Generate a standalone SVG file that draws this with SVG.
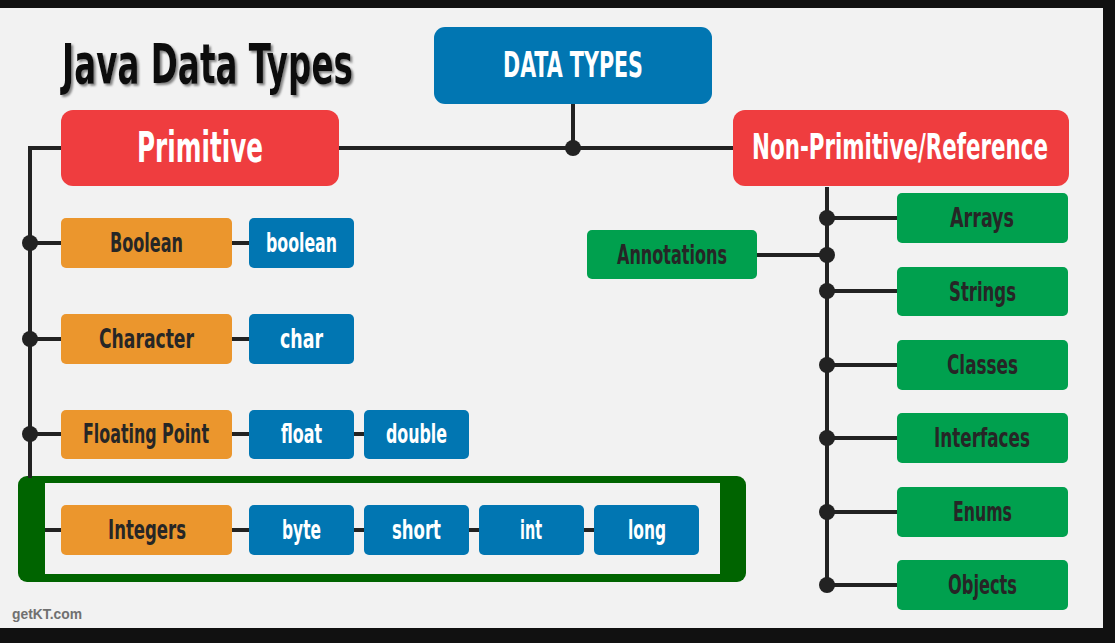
<svg xmlns="http://www.w3.org/2000/svg" width="1115" height="643" viewBox="0 0 1115 643">
<defs>
<style>
.t{font-family:"Liberation Sans Narrow","DejaVu Sans Condensed","Liberation Sans",sans-serif;font-weight:bold;text-anchor:middle}
.w{fill:#ffffff}
.d{fill:#262626}
.lbl{font-size:27px}
.red{fill:#ef3d3f}
.blue{fill:#0176b2}
.org{fill:#eb962d}
.grn{fill:#00a04e}
.ln{stroke:#222;stroke-width:4;fill:none}
.dot{fill:#222}
</style>
<filter id="sh" x="-5%" y="-10%" width="110%" height="130%">
<feDropShadow dx="2" dy="2" stdDeviation="1.2" flood-color="#777" flood-opacity="0.9"/>
</filter>
</defs>
<rect x="0" y="0" width="1115" height="643" fill="#111"/>
<rect x="0" y="8" width="1103" height="620" fill="#f2f2f2"/>

<text x="62" y="83" font-family="Liberation Sans Narrow, DejaVu Sans Condensed, Liberation Sans, sans-serif" font-weight="bold" font-size="55" fill="#111" textLength="291" lengthAdjust="spacingAndGlyphs" filter="url(#sh)">Java Data Types</text>

<g id="integers-frame">
<rect x="18" y="476" width="728" height="106" rx="9" fill="#006400"/>
<rect x="45" y="483" width="675" height="91" fill="#f2f2f2"/>
</g>

<g id="connectors">
<path class="ln" d="M573 104V148M339 148H733"/>
<path class="ln" d="M61 148H30V478"/>
<path class="ln" d="M30 243H61M30 339H61M30 434H61M45 530H61"/>
<path class="ln" d="M232 243H249M232 339H249M232 434H249M354 434H364M232 530H249M354 530H364M469 530H479M584 530H594"/>
<path class="ln" d="M827 187V585M827 218H897M827 291H897M827 365H897M827 438H897M827 512H897M827 585H897M757 255H827"/>
<circle class="dot" cx="573" cy="148" r="8"/>
<circle class="dot" cx="30" cy="243" r="8"/>
<circle class="dot" cx="30" cy="339" r="8"/>
<circle class="dot" cx="30" cy="434" r="8"/>
<circle class="dot" cx="827" cy="218" r="8"/>
<circle class="dot" cx="827" cy="255" r="8"/>
<circle class="dot" cx="827" cy="291" r="8"/>
<circle class="dot" cx="827" cy="365" r="8"/>
<circle class="dot" cx="827" cy="438" r="8"/>
<circle class="dot" cx="827" cy="512" r="8"/>
<circle class="dot" cx="827" cy="585" r="8"/>
</g>

<g id="data-types"><rect class="blue" x="434" y="27" width="278" height="77" rx="11"/><text class="t w" x="573" y="77" font-size="35" textLength="140" lengthAdjust="spacingAndGlyphs">DATA TYPES</text></g>
<g id="primitive"><rect class="red" x="61" y="110" width="278" height="76" rx="12"/><text class="t w" x="200" y="162" font-size="42" textLength="126" lengthAdjust="spacingAndGlyphs">Primitive</text></g>
<g id="non-primitive"><rect class="red" x="733" y="110" width="336" height="76" rx="12"/><text class="t w" transform="translate(900,159) scale(0.68,1)" x="0" y="0" font-size="36" textLength="435" lengthAdjust="spacingAndGlyphs">Non-Primitive/Reference</text></g>

<g id="boolean-cat"><rect class="org" x="61" y="218" width="171" height="50" rx="5"/><text class="t d lbl" x="146.5" y="252" textLength="73" lengthAdjust="spacingAndGlyphs">Boolean</text></g>
<g id="boolean"><rect class="blue" x="249" y="218" width="105" height="50" rx="5"/><text class="t w lbl" x="301.5" y="252" textLength="71" lengthAdjust="spacingAndGlyphs">boolean</text></g>

<g id="character-cat"><rect class="org" x="61" y="314" width="171" height="50" rx="5"/><text class="t d lbl" x="146.5" y="348" textLength="95" lengthAdjust="spacingAndGlyphs">Character</text></g>
<g id="char"><rect class="blue" x="249" y="314" width="105" height="50" rx="5"/><text class="t w lbl" x="301.5" y="348" textLength="43" lengthAdjust="spacingAndGlyphs">char</text></g>

<g id="floating-cat"><rect class="org" x="61" y="410" width="171" height="49" rx="5"/><text class="t d lbl" x="146" y="443" textLength="126" lengthAdjust="spacingAndGlyphs">Floating Point</text></g>
<g id="float"><rect class="blue" x="249" y="410" width="105" height="49" rx="5"/><text class="t w lbl" x="301.5" y="443" textLength="41" lengthAdjust="spacingAndGlyphs">float</text></g>
<g id="double"><rect class="blue" x="364" y="410" width="105" height="49" rx="5"/><text class="t w lbl" x="416.5" y="443" textLength="61" lengthAdjust="spacingAndGlyphs">double</text></g>

<g id="integers-cat"><rect class="org" x="61" y="505" width="171" height="50" rx="5"/><text class="t d lbl" x="147" y="539" textLength="78" lengthAdjust="spacingAndGlyphs">Integers</text></g>
<g id="byte"><rect class="blue" x="249" y="505" width="105" height="50" rx="5"/><text class="t w lbl" x="301.5" y="539" textLength="39" lengthAdjust="spacingAndGlyphs">byte</text></g>
<g id="short"><rect class="blue" x="364" y="505" width="105" height="50" rx="5"/><text class="t w lbl" x="416.5" y="539" textLength="49" lengthAdjust="spacingAndGlyphs">short</text></g>
<g id="int"><rect class="blue" x="479" y="505" width="105" height="50" rx="5"/><text class="t w lbl" x="531" y="539" textLength="22" lengthAdjust="spacingAndGlyphs">int</text></g>
<g id="long"><rect class="blue" x="594" y="505" width="105" height="50" rx="5"/><text class="t w lbl" x="647" y="539" textLength="38" lengthAdjust="spacingAndGlyphs">long</text></g>

<g id="annotations"><rect class="grn" x="587" y="230" width="170" height="49" rx="5"/><text class="t d lbl" x="672" y="264" textLength="110" lengthAdjust="spacingAndGlyphs">Annotations</text></g>
<g id="arrays"><rect class="grn" x="897" y="193" width="171" height="50" rx="5"/><text class="t d lbl" x="982" y="227" textLength="64" lengthAdjust="spacingAndGlyphs">Arrays</text></g>
<g id="strings"><rect class="grn" x="897" y="267" width="171" height="49" rx="5"/><text class="t d lbl" x="982.5" y="301" textLength="67" lengthAdjust="spacingAndGlyphs">Strings</text></g>
<g id="classes"><rect class="grn" x="897" y="340" width="171" height="50" rx="5"/><text class="t d lbl" x="982.5" y="374" textLength="71" lengthAdjust="spacingAndGlyphs">Classes</text></g>
<g id="interfaces"><rect class="grn" x="897" y="413" width="171" height="50" rx="5"/><text class="t d lbl" x="982" y="447" textLength="96" lengthAdjust="spacingAndGlyphs">Interfaces</text></g>
<g id="enums"><rect class="grn" x="897" y="487" width="171" height="50" rx="5"/><text class="t d lbl" x="982.5" y="521" textLength="59" lengthAdjust="spacingAndGlyphs">Enums</text></g>
<g id="objects"><rect class="grn" x="897" y="560" width="171" height="50" rx="5"/><text class="t d lbl" x="982.5" y="594" textLength="69" lengthAdjust="spacingAndGlyphs">Objects</text></g>

<text x="12" y="619" font-family="Liberation Sans, Arial, sans-serif" font-weight="bold" font-size="15" fill="#707070" textLength="70" lengthAdjust="spacingAndGlyphs">getKT.com</text>
</svg>
